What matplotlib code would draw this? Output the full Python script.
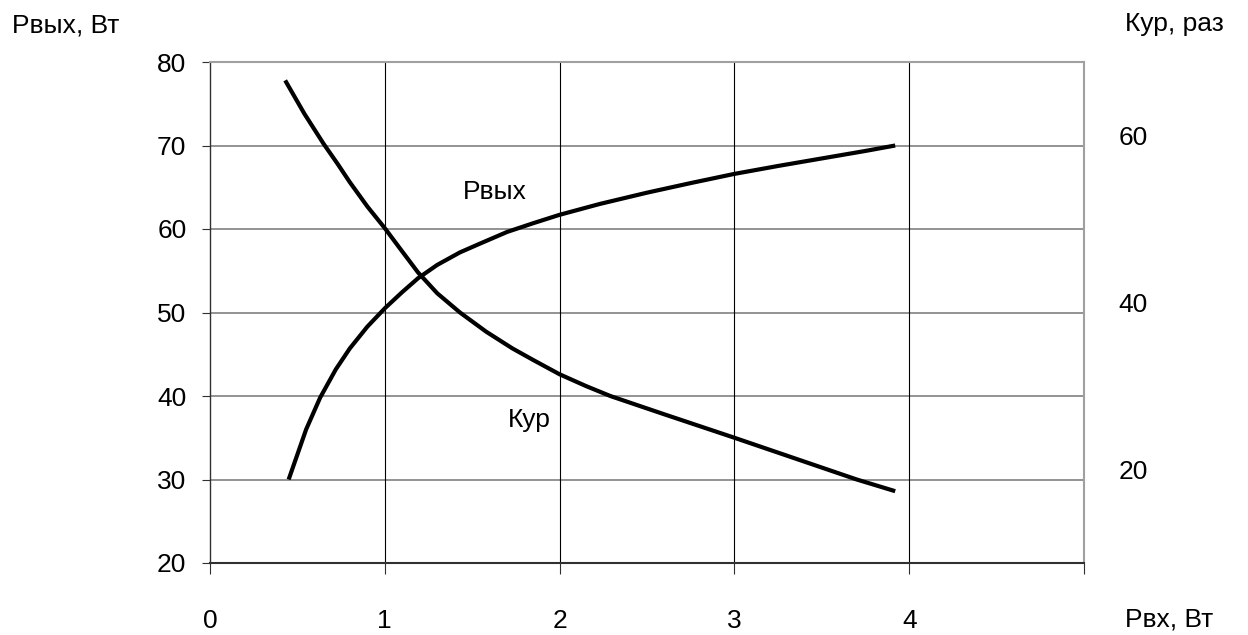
import matplotlib
matplotlib.use("Agg")
import matplotlib.pyplot as plt

plt.rcParams['font.family'] = ['Liberation Sans', 'DejaVu Sans']

# Data
pin_pout = [0.45, 0.55, 0.63, 0.72, 0.80, 0.90, 1.00, 1.10, 1.19, 1.30, 1.43, 1.55, 1.70, 1.85, 2.00, 2.23, 2.50, 2.75, 3.00, 3.25, 3.50, 3.75, 3.92]
pout = [30.0, 36.0, 39.8, 43.2, 45.7, 48.3, 50.5, 52.45, 54.1, 55.7, 57.2, 58.3, 59.65, 60.7, 61.7, 63.0, 64.35, 65.5, 66.6, 67.55, 68.45, 69.35, 70.0]

pin_kyp = [0.43, 0.54, 0.65, 0.73, 0.80, 0.90, 1.00, 1.10, 1.19, 1.30, 1.43, 1.58, 1.73, 1.85, 2.00, 2.15, 2.29, 2.60, 3.00, 3.35, 3.70, 3.92]
kyp = [66.6, 62.6, 59.0, 56.6, 54.4, 51.5, 48.9, 46.1, 43.6, 41.1, 38.8, 36.5, 34.5, 33.1, 31.4, 30.0, 28.8, 26.6, 23.8, 21.3, 18.8, 17.4]

x_ticks = [0, 1, 2, 3, 4, 5]
x_labels = ['0', '1', '2', '3', '4', '']
y_ticks = [20, 30, 40, 50, 60, 70, 80]
y2_ticks = [20, 40, 60]

FS = 19

fig = plt.figure(figsize=(12.48, 6.35), dpi=100)
ax = fig.add_axes([210/1248, 1-563/635, (1084-210)/1248, (563-62)/635])

ax.set_xlim(0, 5)
ax.set_ylim(20, 80)
ax.set_xticks(x_ticks)
ax.set_xticklabels(x_labels)
ax.set_yticks(y_ticks)

for y in y_ticks[1:-1]:
    ax.axhline(y, color='#808080', lw=1.2, zorder=1)
for x in x_ticks[1:-1]:
    ax.axvline(x, color='#000000', lw=0.8, zorder=1)

ax.spines['top'].set_color('#a0a0a0')
ax.spines['right'].set_color('#a0a0a0')
ax.spines['top'].set_linewidth(1.5)
ax.spines['right'].set_linewidth(1.5)
ax.spines['left'].set_color('#303030')
ax.spines['bottom'].set_color('#303030')
ax.spines['left'].set_linewidth(1.0)
ax.spines['bottom'].set_linewidth(1.5)

ax.tick_params(axis='x', direction='out', length=8, width=0.8, pad=25, labelsize=FS, color='#303030')
ax.tick_params(axis='y', direction='out', length=6, width=0.8, pad=11, labelsize=FS, color='#303030')

ax.plot(pin_pout, pout, color='black', lw=3, solid_capstyle='butt', solid_joinstyle='round', zorder=3)

ax2 = ax.twinx()
ax2.set_ylim(8.8, 68.8)
ax2.set_yticks(y2_ticks)
ax2.tick_params(axis='y', length=0, pad=25, labelsize=FS)
for s in ax2.spines.values():
    s.set_visible(False)
ax2.plot(pin_kyp, kyp, color='black', lw=3, solid_capstyle='butt', solid_joinstyle='round', zorder=3)

ax.text(1.447, 64.4, 'Рвых', fontsize=FS, ha='left', va='center')
ax.text(1.704, 37.1, 'Кур', fontsize=FS, ha='left', va='center')

fig.text(12/1248, 1-26/635, 'Рвых, Вт', fontsize=FS, ha='left', va='center')
fig.text(1125/1248, 1-24/635, 'Кур, раз', fontsize=FS, ha='left', va='center')
fig.text(1125/1248, 1-619/635, 'Рвх, Вт', fontsize=FS, ha='left', va='center')

fig.savefig('out.png', dpi=100)
